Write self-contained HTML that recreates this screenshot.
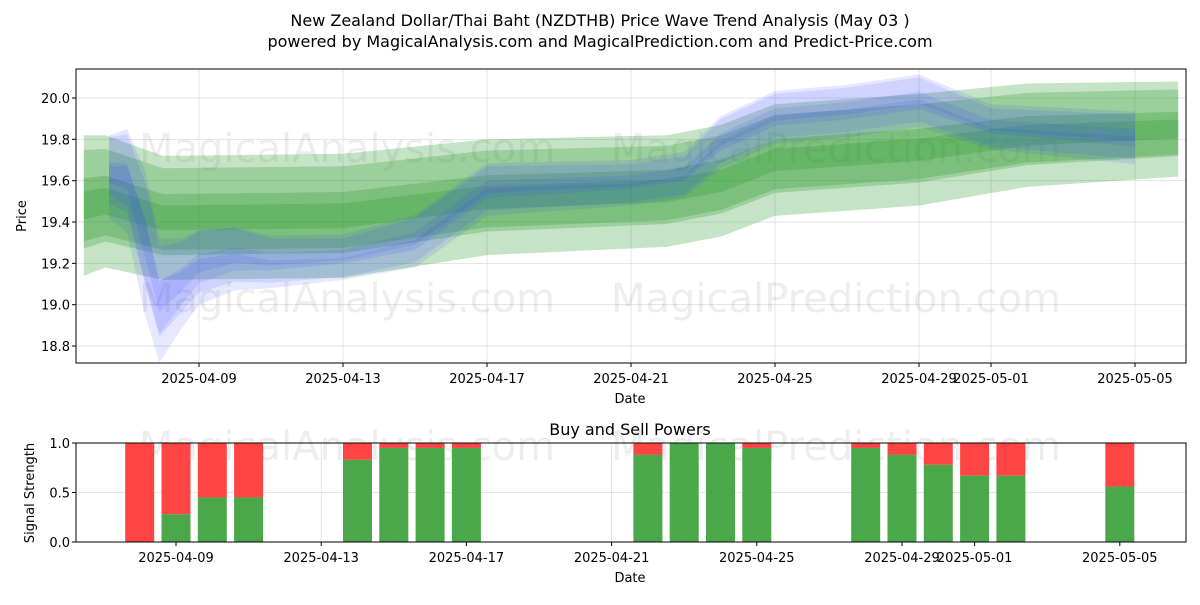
<!DOCTYPE html>
<html><head><meta charset="utf-8">
<style>
body{margin:0;background:#fff;font-family:"Liberation Sans","DejaVu Sans",sans-serif;}
svg text{font-family:"DejaVu Sans","Liberation Sans",sans-serif;}
</style></head>
<body>
<svg id="chart" width="1200" height="600" xmlns="http://www.w3.org/2000/svg">
<rect width="1200" height="600" fill="#fff"/>
<text x="600" y="26" font-size="16" text-anchor="middle">New Zealand Dollar/Thai Baht (NZDTHB) Price Wave Trend Analysis (May 03 )</text>
<text x="600" y="47" font-size="16" text-anchor="middle">powered by MagicalAnalysis.com and MagicalPrediction.com and Predict-Price.com</text>
<g id="topPanel"></g>
<g id="botPanel"></g>
</svg>
<script>
// ---- price data (days relative to 2025-04-09) ----
const gDays=[-3.2,-2.6,-1,4,8,13,14.5,16,20,23,27.2];
const gMid=[19.48,19.5,19.42,19.43,19.52,19.55,19.6,19.7,19.75,19.82,19.85];
const gHalf=[0.34,0.32,0.3,0.3,0.28,0.27,0.27,0.27,0.27,0.25,0.23];
const bDays=[-2.5,-2,-1.5,-1.1,-0.5,0,1,2,4,6,8,12,13.5,14.5,16,18,20,22,26];
const bMid=[19.62,19.6,19.3,19.02,19.1,19.18,19.22,19.2,19.22,19.3,19.55,19.58,19.62,19.78,19.9,19.93,19.98,19.85,19.8];
const bHalf=[0.2,0.25,0.35,0.3,0.22,0.18,0.15,0.12,0.1,0.12,0.12,0.1,0.1,0.12,0.12,0.12,0.12,0.1,0.12];
const yTicks=[18.8,19.0,19.2,19.4,19.6,19.8,20.0];
const xTickDays=[0,4,8,12,16,20,22,26];
const xTickLabels=["2025-04-09","2025-04-13","2025-04-17","2025-04-21","2025-04-25","2025-04-29","2025-05-01","2025-05-05"];
// ---- signal data ----
const sDays=[-1,0,1,2,5,6,7,8,13,14,15,16,19,20,21,22,23,26];
const sBuy=[0,0.28,0.45,0.45,0.83,0.95,0.95,0.95,0.88,1.0,1.0,0.95,0.95,0.88,0.78,0.67,0.67,0.56];

const NS="http://www.w3.org/2000/svg";
function mk(t,a,p){const e=document.createElementNS(NS,t);for(const k in a)e.setAttribute(k,a[k]);p.appendChild(e);return e;}
const topG=document.getElementById('topPanel'),botG=document.getElementById('botPanel');
const L=76,R=1186,T=69,B=363;
const X=d=>199+d*36, Y=v=>98+(20-v)*206.7;
const X2=d=>176+d*36.3, Y2=v=>542-v*99;

yTicks.forEach(v=>{mk('line',{x1:L,x2:R,y1:Y(v),y2:Y(v),stroke:'#ddd','stroke-width':0.8},topG);
 const t=mk('text',{x:L-6,y:Y(v)+5,'font-size':13,'text-anchor':'end'},topG);t.textContent=v.toFixed(1);
 
 
 mk('line',{x1:L-4,x2:L,y1:Y(v),y2:Y(v),stroke:'#000'},topG);});
xTickDays.forEach((d,i)=>{mk('line',{x1:X(d),x2:X(d),y1:T,y2:B,stroke:'#ddd','stroke-width':0.8},topG);
 mk('line',{x1:X(d),x2:X(d),y1:B,y2:B+4,stroke:'#000'},topG);
 const t=mk('text',{x:X(d),y:B+20,'font-size':13,'text-anchor':'middle'},topG);t.textContent=xTickLabels[i];
 
 });
[[347,150],[836,150],[347,300],[836,300]].forEach((p,i)=>{const t=mk('text',{x:p[0],y:p[1]+12,'font-size':40,'text-anchor':'middle',fill:'#000','fill-opacity':0.07},topG);t.textContent=i%2?'MagicalPrediction.com':'MagicalAnalysis.com';
 
 });
function band(days,mid,half,f,off,fill,op,name){
 const up=days.map((d,i)=>X(d)+','+Y(mid[i]+half[i]*f+off));
 const lo=days.map((d,i)=>X(d)+','+Y(mid[i]-half[i]*f+off)).reverse();
 const p=mk('polygon',{points:up.concat(lo).join(' '),fill:fill,'fill-opacity':op},topG);
 
 }
[[1,0],[0.7,0.03],[0.45,-0.02],[0.2,0.0]].forEach(l=>band(gDays,gMid,gHalf,l[0],l[1],'#2e9a2e',0.28,'green-band'));
[[1,0],[0.7,0.05],[0.45,-0.04],[0.25,0.02]].forEach(l=>band(bDays,bMid,bHalf,l[0],l[1],'#3344ff',0.12,'blue-band'));
mk('rect',{x:L,y:T,width:R-L,height:B-T,fill:'none',stroke:'#000'},topG);
let t=mk('text',{x:630,y:403,'font-size':13,'text-anchor':'middle'},topG);t.textContent='Date';
t=mk('text',{x:26,y:216,'font-size':13,'text-anchor':'middle',transform:'rotate(-90 26 216)'},topG);t.textContent='Price';

const T2=443,B2=542;
[0,0.5,1].forEach(v=>{mk('line',{x1:L,x2:R,y1:Y2(v),y2:Y2(v),stroke:'#ddd','stroke-width':0.8},botG);
 mk('line',{x1:L-4,x2:L,y1:Y2(v),y2:Y2(v),stroke:'#000'},botG);
 const t=mk('text',{x:L-6,y:Y2(v)+5,'font-size':13,'text-anchor':'end'},botG);t.textContent=v.toFixed(1);});
xTickDays.forEach((d,i)=>{mk('line',{x1:X2(d),x2:X2(d),y1:T2,y2:B2,stroke:'#ddd','stroke-width':0.8},botG);
 mk('line',{x1:X2(d),x2:X2(d),y1:B2,y2:B2+4,stroke:'#000'},botG);
 const t=mk('text',{x:X2(d),y:B2+20,'font-size':13,'text-anchor':'middle'},botG);t.textContent=xTickLabels[i];});
[[347,448],[836,448]].forEach((p,i)=>{const t=mk('text',{x:p[0],y:p[1]+12,'font-size':40,'text-anchor':'middle','fill-opacity':0.07},botG);t.textContent=i?'MagicalPrediction.com':'MagicalAnalysis.com';});
sDays.forEach((d,i)=>{const x=X2(d)-14.5;
 const r=mk('rect',{x:x,y:Y2(1),width:29,height:Y2(sBuy[i])-Y2(1),fill:'#ff4444'},botG);
 
 
 const g=mk('rect',{x:x,y:Y2(sBuy[i]),width:29,height:Y2(0)-Y2(sBuy[i]),fill:'#4aa84a'},botG);
 
 });
mk('rect',{x:L,y:T2,width:R-L,height:B2-T2,fill:'none',stroke:'#000'},botG);
t=mk('text',{x:630,y:435,'font-size':16,'text-anchor':'middle'},botG);t.textContent='Buy and Sell Powers';
t=mk('text',{x:630,y:582,'font-size':13,'text-anchor':'middle'},botG);t.textContent='Date';
t=mk('text',{x:34,y:493,'font-size':13,'text-anchor':'middle',transform:'rotate(-90 34 493)'},botG);t.textContent='Signal Strength';
</script>
</body></html>
